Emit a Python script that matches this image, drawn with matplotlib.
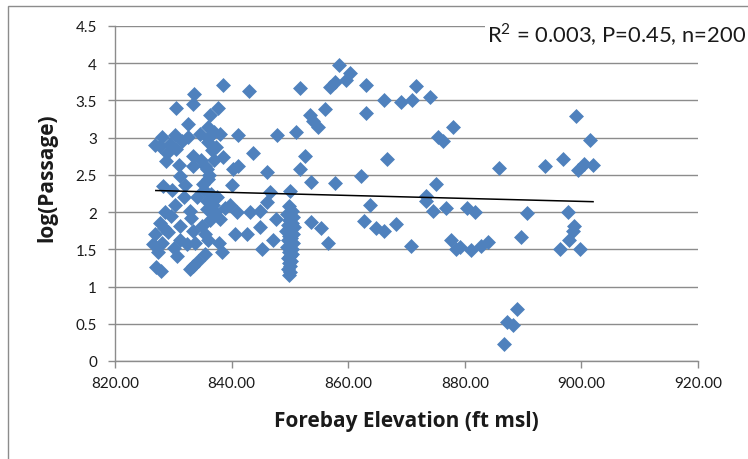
import matplotlib
matplotlib.use("Agg")
import matplotlib.pyplot as plt
from matplotlib.patches import Rectangle

# Forebay elevation (ft msl) and log-transformed passage for each observation
elevation = [
    838.5, 843.0, 833.6, 833.4, 830.4, 837.7, 836.3, 832.6, 836.0, 838.0,
    841.1, 847.8, 828.0, 830.3, 832.6, 826.9, 827.7, 829.4, 830.5, 836.0,
    836.6, 833.4, 838.6, 843.7, 828.7, 830.9, 833.4, 841.1, 840.3, 835.7,
    846.0, 831.1, 836.0, 840.0, 828.3, 846.6, 832.0, 835.1, 846.0, 834.0,
    830.3, 828.6, 832.9, 835.7, 837.1, 839.7, 840.9, 843.1, 844.8, 847.7,
    827.7, 831.1, 834.9, 838.0, 826.9, 829.1, 833.4, 835.4, 840.6, 842.6,
    844.8, 826.6, 828.0, 831.1, 832.3, 833.7, 827.4, 830.6, 835.4, 838.3,
    845.3, 834.3, 833.4, 827.1, 832.9, 827.9, 858.4, 860.3, 859.6, 857.7,
    856.8, 851.7, 863.0, 871.7, 866.1, 869.1, 871.0, 874.0, 856.0, 863.0,
    853.4, 854.0, 854.9, 851.0, 877.9, 875.4, 876.3, 852.6, 851.7, 866.6,
    862.2, 853.6, 857.7, 875.0, 850.0, 873.4, 873.4, 863.7, 874.6, 876.8,
    880.3, 853.7, 855.4, 862.7, 864.8, 866.2, 868.2, 856.6, 870.8, 877.7,
    878.5, 847.1, 899.1, 901.4, 885.9, 893.7, 896.8, 899.4, 900.4, 902.0,
    881.7, 890.7, 897.7, 879.1, 881.1, 882.8, 883.9, 889.6, 896.3, 898.8,
    898.5, 897.9, 899.7, 888.9, 887.3, 888.2, 886.7,
    849.8, 850.4, 849.5, 850.6, 849.9, 850.3, 849.6, 850.7, 850.1, 849.4,
    850.5, 849.9, 850.2, 849.7, 850.6, 850.0, 849.5, 850.3, 849.8, 850.4,
    850.0, 849.6, 850.2, 849.9, 850.1, 849.7, 850.0, 849.9,
    836.5, 835.8, 836.8, 835.2, 836.2, 835.5, 834.8, 836.9, 837.3, 835.9,
    836.9, 834.5, 831.5, 829.0, 831.8, 829.8, 837.5, 838.8, 833.0, 836.3,
    829.6, 828.4, 830.2, 836.0, 837.8,
]
log_passage = [
    3.71, 3.63, 3.58, 3.45, 3.40, 3.40, 3.30, 3.19, 3.14, 3.05,
    3.04, 3.04, 3.01, 3.03, 3.01, 2.90, 2.89, 2.92, 2.85, 2.94,
    2.83, 2.76, 2.74, 2.80, 2.68, 2.63, 2.62, 2.62, 2.58, 2.58,
    2.54, 2.49, 2.45, 2.37, 2.35, 2.27, 2.36, 2.38, 2.13, 2.20,
    2.09, 2.00, 2.02, 2.04, 2.00, 2.09, 2.00, 2.00, 2.02, 1.91,
    1.86, 1.82, 1.82, 1.91, 1.71, 1.73, 1.75, 1.71, 1.71, 1.71,
    1.80, 1.57, 1.59, 1.62, 1.57, 1.59, 1.46, 1.41, 1.44, 1.47,
    1.50, 1.35, 1.28, 1.26, 1.23, 1.21, 3.98, 3.87, 3.77, 3.75,
    3.68, 3.67, 3.71, 3.69, 3.50, 3.48, 3.50, 3.55, 3.38, 3.33,
    3.30, 3.23, 3.15, 3.08, 3.14, 3.01, 2.96, 2.76, 2.58, 2.71,
    2.49, 2.40, 2.39, 2.38, 2.29, 2.22, 2.15, 2.09, 2.01, 2.05,
    2.06, 1.87, 1.78, 1.88, 1.78, 1.75, 1.84, 1.59, 1.55, 1.62,
    1.50, 1.62, 3.29, 2.97, 2.59, 2.62, 2.71, 2.57, 2.65, 2.63,
    2.00, 1.99, 2.00, 1.53, 1.49, 1.55, 1.60, 1.67, 1.51, 1.82,
    1.75, 1.62, 1.51, 0.70, 0.52, 0.49, 0.23,
    2.08, 2.02, 1.97, 1.93, 1.90, 1.86, 1.83, 1.80, 1.77, 1.74,
    1.71, 1.68, 1.65, 1.62, 1.59, 1.56, 1.53, 1.50, 1.47, 1.44,
    1.41, 1.38, 1.35, 1.31, 1.27, 1.23, 1.19, 1.15,
    2.25, 2.15, 2.10, 2.30, 2.50, 2.62, 2.70, 2.70, 2.88, 3.00,
    3.08, 3.05, 2.95, 2.80, 2.20, 2.30, 2.20, 2.05, 1.92, 1.90,
    1.95, 1.78, 1.52, 1.62, 1.58,
]

# Linear trend line
trend_slope = -0.002
trend_intercept = 3.944
trend_x = [827.0, 902.0]

stats_text = "R$^2$ = 0.003, P=0.45, n=200"
x_ticks = [820, 840, 860, 880, 900, 920]
y_ticks = [0, 0.5, 1, 1.5, 2, 2.5, 3, 3.5, 4, 4.5]

plt.rcParams["font.family"] = ["Lato", "DejaVu Sans"]
plt.rcParams["mathtext.fontset"] = "custom"
plt.rcParams["mathtext.rm"] = "Lato"

fig = plt.figure(figsize=(7.48, 4.60), dpi=100)
fig.patch.set_facecolor("white")
ax = fig.add_axes([115 / 748, 1 - 362 / 460, 583 / 748, 335 / 460])

grid_color = "#8c8c8c"
text_color = "#1a1a1a"
ax.set_xlim(820, 920)
ax.set_ylim(0, 4.5)
ax.set_xticks(x_ticks)
ax.set_xticklabels([f"{t:.2f}" for t in x_ticks])
ax.set_yticks(y_ticks)
ax.set_yticklabels([f"{t:g}" for t in y_ticks])
ax.yaxis.grid(True, color=grid_color, linewidth=1.0)
ax.set_axisbelow(True)
for side in ("top", "right"):
    ax.spines[side].set_visible(False)
for side in ("left", "bottom"):
    ax.spines[side].set_color(grid_color)
    ax.spines[side].set_linewidth(1.0)
ax.tick_params(axis="both", colors=grid_color, length=5, width=1.0,
               labelcolor=text_color, labelsize=11)
ax.tick_params(axis="x", pad=6)
ax.tick_params(axis="y", pad=8)

ax.scatter(elevation, log_passage, marker="D", s=58, color="#4F81BD",
           linewidths=0, zorder=3)

trend_y = [trend_slope * x + trend_intercept for x in trend_x]
ax.plot(trend_x, trend_y, color="black", linewidth=1.1, zorder=4)

label_font = dict(family=["Open Sans", "DejaVu Sans"], fontsize=15,
                  fontweight="bold", color=text_color)
fig.text(406 / 748, 1 - 422 / 460, "Forebay Elevation (ft msl)",
         ha="center", va="center", **label_font)
fig.text(47 / 748, 1 - 178 / 460, "log(Passage)", rotation=90,
         ha="center", va="center", **label_font)

fig.text(487 / 748, 1 - 35 / 460, stats_text, fontsize=15.8, color=text_color,
         va="center", ha="left",
         bbox=dict(facecolor="white", edgecolor="none", pad=1.5))

# Outer chart frame
fig.patches.append(Rectangle((8 / 748, -0.05), 1.0, 1 - 7 / 460 + 0.05,
                             transform=fig.transFigure, fill=False,
                             edgecolor="#8c8c8c", linewidth=1.0))

fig.savefig("out.png", dpi=100)
